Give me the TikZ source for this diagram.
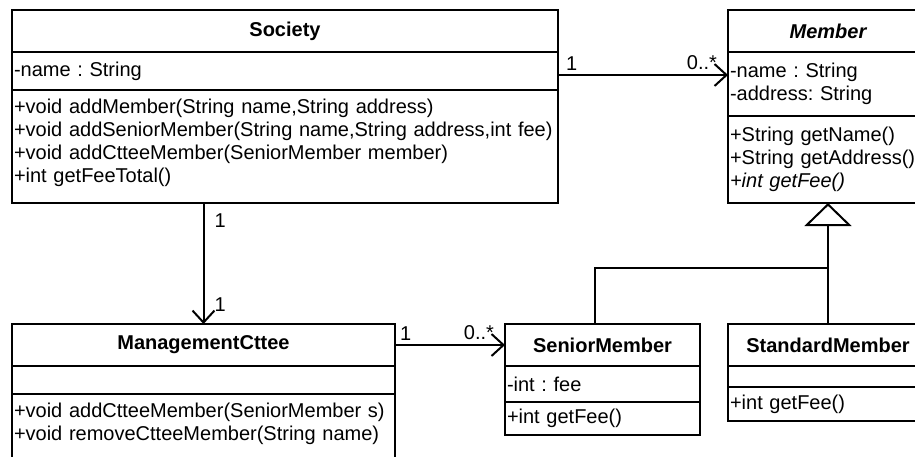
\documentclass[tikz,border=0pt]{standalone}
\usepackage{fontspec}
\setmainfont{Liberation Sans}
\usetikzlibrary{positioning,arrows.meta}
\frenchspacing

\begin{document}
\begin{tikzpicture}[x=0.5pt,y=-0.5pt,
    classname/.style ={draw, line width=1pt, outer sep=0pt, inner xsep=1pt, inner ysep=0pt, text width=#1, minimum height=21pt, align=center, font=\fontsize{10}{11.5}\selectfont\bfseries},
    classbody/.style ={draw, line width=1pt, outer sep=0pt, inner xsep=1pt, inner ysep=0pt, text width=#1, align=left, font=\fontsize{10}{11.5}\selectfont},
    association/.style ={line width=1pt, -{Straight Barb[length=6pt,width=11pt]}},
    generalization/.style ={line width=1pt, -{Triangle[open,length=11.5pt,width=23.5pt]}},
    multiplicity/.style ={font=\fontsize{10}{11.5}\selectfont, inner sep=2pt}]
   \clip (0,0) rectangle (915,456);

   \node[classname=271pt, anchor=north west] (society) at (12,10) {Society};
   \node[classbody=271pt, minimum height=19pt, below=0pt of society] (societyattr) {-name : String};
   \node[classbody=271pt, minimum height=56.5pt, below=0pt of societyattr] (societyops) {+void addMember(String name,String address)\\+void addSeniorMember(String name,String address,int fee)\\+void addCtteeMember(SeniorMember member)\\+int getFeeTotal()\\[-5.5pt]\mbox{}};

   \node[classname=98pt, anchor=north west] (member) at (728,10) {\itshape Member};
   \node[classbody=98pt, minimum height=32pt, below=0pt of member] (memberattr) {-name : String\\-address: String};
   \node[classbody=98pt, minimum height=43.5pt, below=0pt of memberattr] (memberops) {+String getName()\\+String getAddress()\\\textit{+int getFee()}};

   \node[classname=189.5pt, anchor=north west] (cttee) at (12,324) {ManagementCttee};
   \node[classbody=189.5pt, minimum height=14pt, below=0pt of cttee] (ctteeattr) {};
   \node[classbody=189.5pt, minimum height=43pt, below=0pt of ctteeattr] (ctteeops) {+void addCtteeMember(SeniorMember s)\\+void removeCtteeMember(String name)\\[4pt]\mbox{}};

   \node[classname=95.5pt, anchor=north west] (senior) at (505,324) {SeniorMember};
   \node[classbody=95.5pt, minimum height=18pt, below=0pt of senior] (seniorattr) {-int : fee};
   \node[classbody=95.5pt, minimum height=16.5pt, below=0pt of seniorattr] (seniorops) {+int getFee()};

   \node[classname=98pt, anchor=north west] (standard) at (728,324) {StandardMember};
   \node[classbody=98pt, minimum height=10.5pt, below=0pt of standard] (standardattr) {};
   \node[classbody=98pt, minimum height=17pt, below=0pt of standardattr] (standardops) {+int getFee()};

   \draw[association] ([yshift=-2pt]societyattr.east) -- ([yshift=-2pt]societyattr.east -| memberattr.west)
      node[multiplicity, pos=0, above right, xshift=1.5pt] {1}
      node[multiplicity, pos=1, above left, xshift=-3pt] {0..*};
   \draw[association] (societyops.south -| cttee.north) -- (cttee.north)
      node[multiplicity, pos=0, below right, xshift=3pt, yshift=-3pt] {1}
      node[multiplicity, pos=1, above right, xshift=3pt, yshift=4pt] {1};
   \draw[association] (cttee.east) -- (senior.west)
      node[multiplicity, pos=0, above right] {1}
      node[multiplicity, pos=1, above left, xshift=-3pt] {0..*};

   \coordinate (split) at (828,268);
   \draw[generalization] (standard.north) -- (memberops.south);
   \draw[line width=1pt] ([xshift=-3.75pt]senior.north) |- (split);
 \end{tikzpicture}
\end{document}
